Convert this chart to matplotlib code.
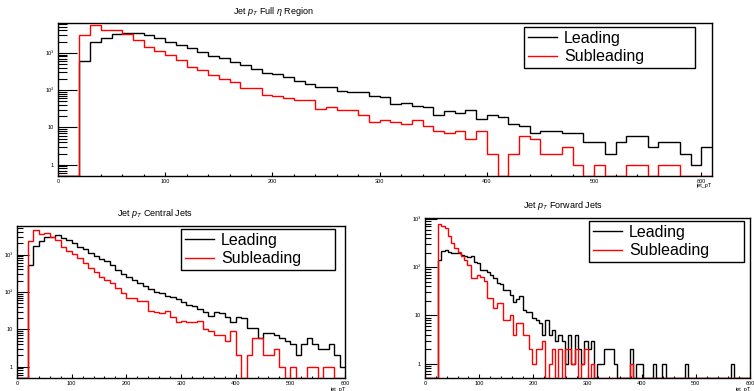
import numpy as np
import matplotlib
matplotlib.use("Agg")
import matplotlib.pyplot as plt
from matplotlib.ticker import FixedLocator, FuncFormatter, LogLocator, MultipleLocator, NullFormatter

plt.rcParams['font.family'] = ['Liberation Sans', 'DejaVu Sans']
plt.rcParams['mathtext.fontset'] = 'custom'
plt.rcParams['mathtext.rm'] = 'Liberation Sans'
plt.rcParams['mathtext.it'] = 'Liberation Sans:italic'

# Full eta region, 10 GeV bins from 0 to 610
full_edges = np.arange(0, 611, 10)
full_leading = [0, 0, 615, 1950, 2500, 3200, 3300, 3400, 2930, 2450,
                1990, 1650, 1320, 1050, 800, 720, 565, 460, 370, 294,
                264, 224, 174, 145, 123, 121, 95, 91, 91, 71,
                65, 42, 44, 38, 35, 22, 28, 25, 29, 17,
                22, 19, 12, 11, 7, 8, 8, 7, 7, 4,
                4, 2, 4, 6, 6, 3, 4, 4, 2, 1, 3]
full_subleading = [0, 0, 3080, 5400, 4070, 4070, 3200, 2200, 1390, 1090,
                   870, 630, 430, 350, 257, 205, 165, 112, 112, 76,
                   71, 61, 55, 55, 32, 35, 30, 30, 22, 14,
                   16, 14, 12, 16, 11, 8, 7, 8, 5, 8,
                   2, 0, 2, 6, 5, 2, 2, 3, 1, 0,
                   1, 0, 0, 1, 1, 0, 1, 1, 0, 0, 0]

# Central jets, 10 GeV bins from 0 to 600
central_edges = np.arange(0, 601, 10)
central_leading = [0, 0, 525, 1700, 2290, 3000, 3000, 3330, 2830, 2450,
                   2080, 1620, 1370, 1070, 910, 740, 680, 525, 385, 300,
                   255, 208, 176, 144, 123, 101, 91, 79, 74, 64,
                   55, 45, 42, 35, 30, 23, 30, 27, 22, 16,
                   21, 20, 11, 11, 6, 8, 8, 7, 6, 5,
                   4, 2, 4, 6, 4, 3, 3, 4, 2, 1]
central_subleading = [0, 0, 2340, 4500, 3530, 3850, 3000, 2440, 1620, 1260,
                      1030, 790, 580, 425, 345, 255, 208, 170, 125, 95,
                      70, 70, 57, 57, 31, 29, 27, 31, 22, 16,
                      17, 16, 16, 17, 10, 9, 7, 7, 5, 9,
                      2, 0, 2, 6, 6, 2, 2, 3, 1, 0,
                      1, 0, 0, 1, 1, 0, 1, 1, 0, 0]

# Forward jets, 6 GeV bins from 0 to 600
forward_edges = np.arange(0, 601, 6)
forward_leading = [0, 0, 0, 0, 142, 213, 223, 203, 196, 200,
                   196, 181, 167, 162, 172, 131, 122, 88, 86, 78,
                   69, 59, 47, 45, 33, 33, 27, 19, 22, 25,
                   13, 12, 12, 9, 8, 7, 4, 8, 4, 5,
                   3, 4, 3, 1, 4, 1, 4, 2, 1, 3,
                   2, 3, 0, 1, 1, 2, 2, 2, 1, 0,
                   0, 0, 0, 2, 0, 1, 1, 0, 0, 0,
                   1, 0, 0, 1, 0, 0, 0, 0, 0, 0,
                   1, 0, 0, 0, 0, 0, 0, 0, 0, 0,
                   0, 0, 0, 0, 1, 0, 0, 0, 0, 0]
forward_subleading = [0, 0, 0, 0, 780, 720, 645, 435, 325, 250,
                      202, 167, 142, 112, 59, 59, 70, 64, 51, 23,
                      23, 14, 18, 18, 8, 8, 10, 4, 7, 7,
                      4, 4, 2, 1, 2, 2, 3, 0, 1, 2,
                      0, 2, 0, 2, 2, 1, 2, 0, 1, 2,
                      0, 1, 0, 0, 0, 0, 0, 0, 0, 0,
                      0, 0, 0, 1, 0, 0, 0, 0, 0, 0,
                      0, 0, 0, 0, 0, 0, 0, 0, 0, 0,
                      0, 0, 0, 0, 0, 0, 0, 0, 0, 0,
                      0, 0, 0, 0, 0, 0, 0, 0, 0, 0]

YMIN = 0.5
W, H = 754, 391


def px_box(x0, y0, x1, y1):
    # pixel box (top-left origin) -> figure fraction rect
    return [x0 / W, 1 - y1 / H, (x1 - x0) / W, (y1 - y0) / H]


def log_label(v, pos):
    return {1: '1', 10: '10', 100: '10²', 1000: '10³'}.get(int(round(v)), '')


def draw_hist(ax, edges, lead, sub, ylim, xmax, ymaj, ymin_len):
    # empty bins sit on the lower frame edge
    lead = np.asarray(lead, float)
    sub = np.asarray(sub, float)
    ax.stairs(np.where(lead > 0, lead, YMIN), edges, color='black', lw=1.0,
              baseline=None, label='Leading', zorder=3)
    ax.stairs(np.where(sub > 0, sub, YMIN), edges, color='red', lw=1.0,
              baseline=None, label='Subleading', zorder=3)
    ax.set_yscale('log')
    ax.set_xlim(0, xmax)
    ax.set_ylim(*ylim)
    ax.yaxis.set_major_locator(FixedLocator([1, 10, 100, 1000]))
    ax.yaxis.set_major_formatter(FuncFormatter(log_label))
    ax.yaxis.set_minor_locator(LogLocator(base=10, subs=np.arange(2, 10)))
    ax.yaxis.set_minor_formatter(NullFormatter())
    ax.xaxis.set_major_locator(MultipleLocator(100))
    ax.xaxis.set_minor_locator(MultipleLocator(20))
    ax.tick_params(which='both', direction='in', top=False, right=False,
                   labelsize=4, width=0.8, color='black')
    ax.tick_params(axis='y', which='major', length=ymaj, pad=3)
    ax.tick_params(axis='y', which='minor', length=ymin_len)
    ax.tick_params(axis='x', which='major', length=3, pad=2)
    ax.tick_params(axis='x', which='minor', length=1.5)
    for s in ax.spines.values():
        s.set_linewidth(1.0)


def add_legend(ax, x0, y0, x1, y1):
    r = px_box(x0, y0, x1, y1)
    ax.legend(loc='upper left', bbox_to_anchor=r, bbox_transform=fig.transFigure,
              mode='expand', frameon=True, fancybox=False, edgecolor='black',
              framealpha=1, fontsize=11.5, handlelength=1.8, handletextpad=0.45,
              borderpad=0.25, labelspacing=0.2, borderaxespad=0)


fig = plt.figure(figsize=(7.54, 3.91), dpi=100)

ax_full = fig.add_axes(px_box(58, 23, 712, 176))
draw_hist(ax_full, full_edges, full_leading, full_subleading, (YMIN, 6300), 610, 14, 6.5)
add_legend(ax_full, 524, 27, 695, 67)
fig.text(273 / W, 1 - 11 / H, r'Jet $p_T$ Full $\eta$ Region', ha='center', va='center', fontsize=6.5)
fig.text(711 / W, 1 - 185 / H, 'jet_pT', ha='right', va='center', fontsize=4)

ax_cen = fig.add_axes(px_box(17, 226, 345, 378))
draw_hist(ax_cen, central_edges, central_leading, central_subleading, (YMIN, 5800), 600, 8.5, 4.5)
add_legend(ax_cen, 181, 229, 335, 269)
fig.text(155 / W, 1 - 213 / H, r'Jet $p_T$ Central Jets', ha='center', va='center', fontsize=6.5)
fig.text(345 / W, 1 - 389 / H, 'jet_pT', ha='right', va='center', fontsize=4)

ax_fwd = fig.add_axes(px_box(425, 218, 750, 378))
draw_hist(ax_fwd, forward_edges, forward_leading, forward_subleading, (YMIN, 1050), 600, 8.5, 4.5)
add_legend(ax_fwd, 589, 221, 744, 263)
fig.text(563 / W, 1 - 205 / H, r'Jet $p_T$ Forward Jets', ha='center', va='center', fontsize=6.5)
fig.text(750 / W, 1 - 389 / H, 'jet_pT', ha='right', va='center', fontsize=4)

fig.savefig('out.png', dpi=100)
